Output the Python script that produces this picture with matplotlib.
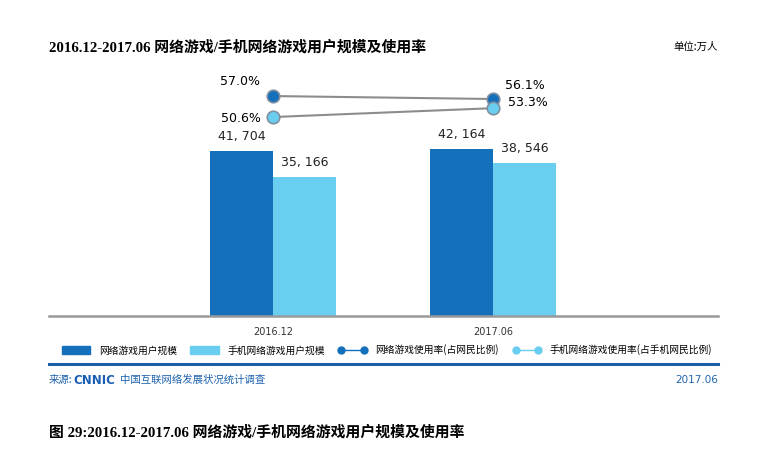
import matplotlib
matplotlib.use('Agg')
import matplotlib.pyplot as plt
from matplotlib.patches import Patch
from matplotlib.lines import Line2D
import numpy as np

plt.rcParams['font.family'] = ['DejaVu Sans', 'Noto Sans CJK SC']

periods = ['2016.12', '2017.06']
game_users = [41704, 42164]          # 网络游戏用户规模 (万人)
mobile_game_users = [35166, 38546]   # 手机网络游戏用户规模 (万人)
game_rate = [57.0, 56.1]             # 网络游戏使用率 (%)
mobile_game_rate = [50.6, 53.3]      # 手机网络游戏使用率 (%)
series_names = ['网络游戏用户规模', '手机网络游戏用户规模',
                '网络游戏使用率(占网民比例)', '手机网络游戏使用率(占手机网民比例)']

DARK = '#1470BA'
LIGHT = '#6ACEF0'
BLUE_TXT = '#1F63AE'
W, H = 768, 467

fig = plt.figure(figsize=(7.68, 4.67), dpi=100)
# axes from x=49..718 px, y=60..316 px
ax = fig.add_axes([49 / W, 1 - 316 / H, (718 - 49) / W, (316 - 60) / H])

x = np.arange(len(periods))
bw = 0.286
b1 = ax.bar(x - bw / 2, game_users, bw, color=DARK)
b2 = ax.bar(x + bw / 2, mobile_game_users, bw, color=LIGHT)
ax.set_ylim(0, 64700)
for bars in (b1, b2):
    for r in bars:
        ax.annotate(f'{int(r.get_height()):,}'.replace(',', ', '),
                    (r.get_x() + r.get_width() / 2, r.get_height()),
                    xytext=(0, 6), textcoords='offset points',
                    ha='center', va='bottom', fontsize=9, color='#222222')

for s in ['top', 'left', 'right']:
    ax.spines[s].set_visible(False)
ax.spines['bottom'].set_color('#999999')
ax.spines['bottom'].set_linewidth(1.8)
ax.set_yticks([])
ax.set_xticks(x)
ax.set_xticklabels(periods, fontsize=7, color='#333333')
ax.tick_params(axis='x', length=0, pad=8)

ax2 = ax.twinx()
ax2.plot(x, game_rate, color='#8c8c8c', lw=1.5, marker='o', ms=9,
         mfc=DARK, mec='#7f8fa0', mew=1.2)
ax2.plot(x, mobile_game_rate, color='#8c8c8c', lw=1.5, marker='o', ms=9,
         mfc=LIGHT, mec='#7f8fa0', mew=1.2)
ax2.set_ylim(-10.1, 68)
ax2.axis('off')
ax.set_xlim(-1.018, 2.023)

ax2.annotate(f'{game_rate[0]:.1f}%', (x[0], game_rate[0]), xytext=(-9, 6),
             textcoords='offset points', ha='right', va='bottom', fontsize=9)
ax2.annotate(f'{mobile_game_rate[0]:.1f}%', (x[0], mobile_game_rate[0]), xytext=(-9, -1),
             textcoords='offset points', ha='right', va='center', fontsize=9)
ax2.annotate(f'{game_rate[1]:.1f}%', (x[1], game_rate[1]), xytext=(9, 5),
             textcoords='offset points', ha='left', va='bottom', fontsize=9)
ax2.annotate(f'{mobile_game_rate[1]:.1f}%', (x[1], mobile_game_rate[1]), xytext=(11, 4),
             textcoords='offset points', ha='left', va='center', fontsize=9)

title_font = ['Liberation Serif', 'Noto Sans CJK SC']
fig.text(49 / W, 1 - 47 / H, '2016.12-2017.06 网络游戏/手机网络游戏用户规模及使用率',
         family=title_font, fontweight='bold', fontsize=10.7, va='center', ha='left')
fig.text(718 / W, 1 - 47 / H, '单位:万人', family=['Noto Sans CJK SC'],
         fontsize=7.5, va='center', ha='right')

handles = [Patch(color=DARK), Patch(color=LIGHT),
           Line2D([], [], color=DARK, lw=1, marker='o', ms=5, mfc=DARK, mec=DARK),
           Line2D([], [], color=LIGHT, lw=1, marker='o', ms=5, mfc=LIGHT, mec=LIGHT)]
fig.legend(handles, series_names, loc='center', ncol=4, numpoints=2,
           bbox_to_anchor=(387 / W, 1 - 350 / H), frameon=False,
           prop={'family': 'Noto Sans CJK SC', 'size': 7},
           handlelength=2.9, handleheight=0.9, handletextpad=0.9, columnspacing=1.4)

fig.add_artist(Line2D([49 / W, 718 / W], [1 - 364 / H, 1 - 364 / H],
                      color='#1F5FA8', lw=2.2, transform=fig.transFigure))
fig.text(49 / W, 1 - 380 / H, '来源:', family=['Noto Sans CJK SC'],
         fontsize=7.5, color=BLUE_TXT, va='center', ha='left')
fig.text(73 / W, 1 - 380 / H, 'CNNIC', family=['DejaVu Sans'], fontweight='bold',
         fontsize=8.5, color='#1A5FB4', va='center', ha='left')
fig.text(120 / W, 1 - 380 / H, '中国互联网络发展状况统计调查', family=['Noto Sans CJK SC'],
         fontsize=7.5, color=BLUE_TXT, va='center', ha='left')
fig.text(718 / W, 1 - 380 / H, '2017.06', family=['DejaVu Sans'],
         fontsize=7.5, color=BLUE_TXT, va='center', ha='right')

fig.text(49 / W, 1 - 432 / H, '图 29:2016.12-2017.06 网络游戏/手机网络游戏用户规模及使用率',
         family=title_font, fontweight='bold', fontsize=10.7, va='center', ha='left')

fig.savefig('out.png', dpi=100)
